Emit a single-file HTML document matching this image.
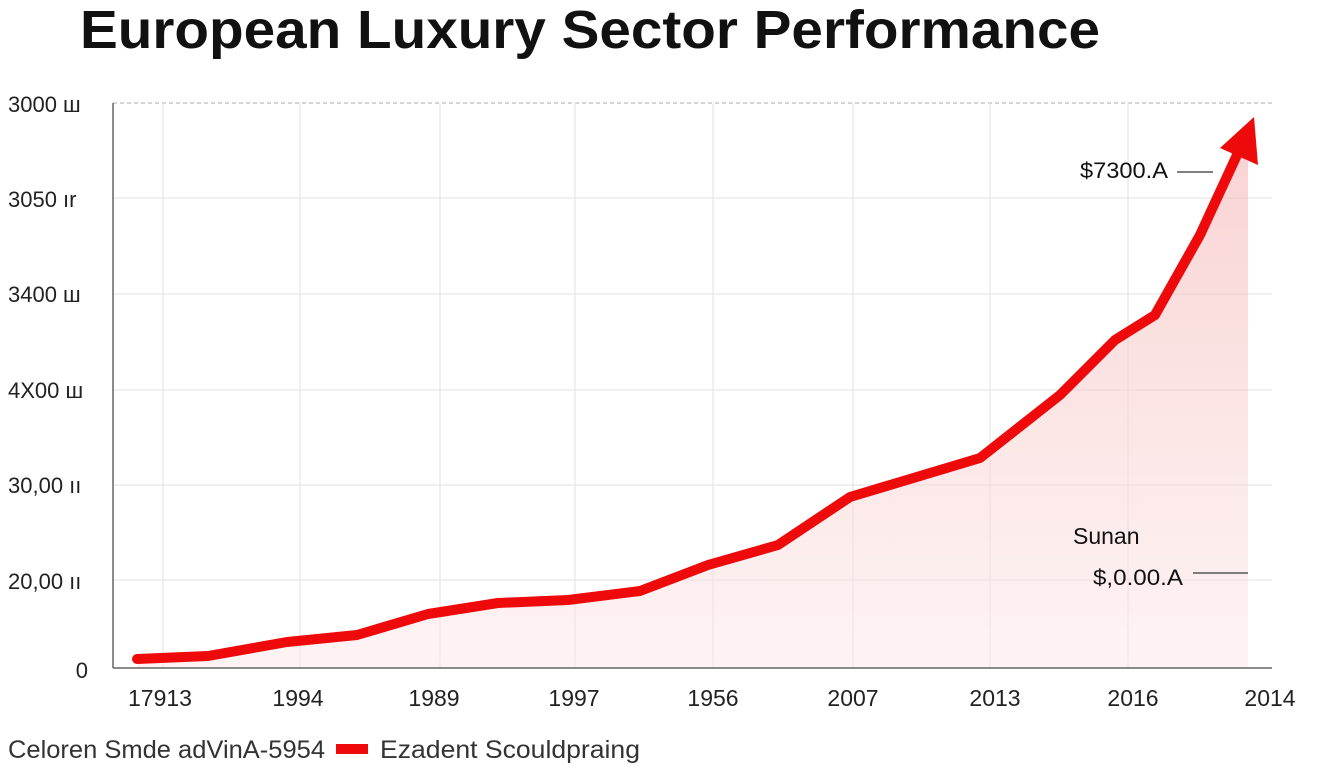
<!DOCTYPE html>
<html><head><meta charset="utf-8"><style>
body{margin:0;background:#fff;width:1344px;height:768px;overflow:hidden;font-family:"Liberation Sans",sans-serif}
</style></head><body>
<svg width="1344" height="768" xmlns="http://www.w3.org/2000/svg" font-family="Liberation Sans, sans-serif">
<defs><linearGradient id="g" x1="0" y1="0" x2="0" y2="1"><stop offset="0" stop-color="#f5b5b5" stop-opacity="0.6"/><stop offset="1" stop-color="#fde8e8" stop-opacity="0.5"/></linearGradient></defs>
<text x="80" y="48" font-size="54" font-weight="bold" fill="#111" textLength="1020" lengthAdjust="spacingAndGlyphs">European Luxury Sector Performance</text>
<g stroke="#e6e6e6" stroke-width="1.2">
<line x1="113" y1="103" x2="1272" y2="103" stroke-dasharray="4,3" stroke="#bbb"/>
<line x1="113" y1="198" x2="1272" y2="198"/><line x1="113" y1="294" x2="1272" y2="294"/>
<line x1="113" y1="390" x2="1272" y2="390"/><line x1="113" y1="485" x2="1272" y2="485"/>
<line x1="113" y1="580" x2="1272" y2="580"/>
<line x1="163" y1="103" x2="163" y2="668"/><line x1="300" y1="103" x2="300" y2="668"/>
<line x1="440" y1="103" x2="440" y2="668"/><line x1="575" y1="103" x2="575" y2="668"/>
<line x1="713" y1="103" x2="713" y2="668"/><line x1="853" y1="103" x2="853" y2="668"/>
<line x1="990" y1="103" x2="990" y2="668"/><line x1="1128" y1="103" x2="1128" y2="668"/>
</g>
<path d="M137,659 L208,656 L287,642 L357,635 L428,614 L498,603 L568,600 L640,591 L708,565 L778,545 L850,497 L980,458 L1060,395 L1115,340 L1155,315 L1200,235 L1248,140 L1248,668 L137,668 Z" fill="url(#g)"/>
<line x1="113" y1="103" x2="113" y2="668" stroke="#666" stroke-width="1.5"/>
<line x1="113" y1="668" x2="1272" y2="668" stroke="#666" stroke-width="1.5"/>
<polyline points="137,659 208,656 287,642 357,635 428,614 498,603 568,600 640,591 708,565 778,545 850,497 980,458 1060,395 1115,340 1155,315 1200,235 1237,155" fill="none" stroke="#ee0a0a" stroke-width="10" stroke-linejoin="round" stroke-linecap="round"/>
<polygon points="1254,117 1258,165 1220,148" fill="#ee0a0a"/>
<g font-size="22" fill="#222">
<text x="8" y="112">3000 ш</text><text x="8" y="207">3050 ır</text><text x="8" y="302">3400 ш</text>
<text x="8" y="398">4X00 ш</text><text x="8" y="493">30,00 ıı</text><text x="8" y="589">20,00 ıı</text>
<text x="88" y="678" text-anchor="end">0</text>
</g>
<g font-size="23" fill="#222" text-anchor="middle">
<text x="160" y="706">17913</text><text x="298" y="706">1994</text><text x="434" y="706">1989</text>
<text x="574" y="706">1997</text><text x="713" y="706">1956</text><text x="853" y="706">2007</text>
<text x="995" y="706">2013</text><text x="1133" y="706">2016</text><text x="1270" y="706">2014</text>
</g>
<text x="1080" y="178" font-size="22" fill="#111" textLength="88" lengthAdjust="spacingAndGlyphs">$7300.A</text>
<line x1="1177" y1="172" x2="1213" y2="172" stroke="#555" stroke-width="1.5"/>
<text x="1073" y="544" font-size="23" fill="#111">Sunan</text>
<text x="1093" y="585" font-size="22" fill="#111" textLength="90" lengthAdjust="spacingAndGlyphs">$,0.00.A</text>
<line x1="1193" y1="573" x2="1248" y2="573" stroke="#555" stroke-width="1.5"/>
<text x="8" y="758" font-size="25" fill="#333" textLength="317" lengthAdjust="spacingAndGlyphs">Celoren Smde adVinA-5954</text>
<rect x="336" y="744" width="32" height="10" fill="#ee0a0a"/>
<text x="380" y="758" font-size="25" fill="#333" textLength="260" lengthAdjust="spacingAndGlyphs">Ezadent Scouldpraing</text>
</svg>
</body></html>
